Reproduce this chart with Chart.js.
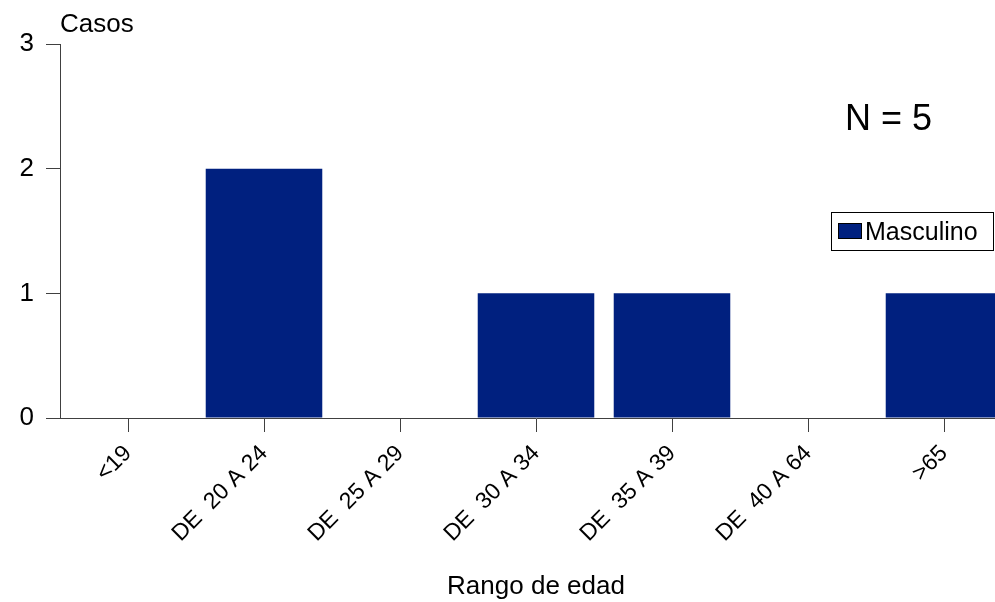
<!DOCTYPE html>
<html>
<head>
<meta charset="utf-8">
<script src="https://cdn.jsdelivr.net/npm/chart.js@4"></script>
<style>
  html, body { margin: 0; padding: 0; background: #fff; overflow: hidden; }
  #wrap { width: 995px; height: 602px; overflow: hidden; }
</style>
</head>
<body>
<div id="wrap"><canvas id="chart" width="1020" height="602"></canvas></div>
<script>
const categories = ['<19', 'DE  20 A 24', 'DE  25 A 29', 'DE  30 A 34', 'DE  35 A 39', 'DE  40 A 64', '>65'];
const masculino = [0, 2, 0, 1, 1, 0, 1];
const seriesLabel = 'Masculino';
const yTitle = 'Casos';
const xTitle = 'Rango de edad';
const totalLabel = 'N = 5';

const barColor = '#00207f';
const axisColor = '#404040';
const fontFamily = 'Arial, "Liberation Sans", sans-serif';

const extraText = {
    id: 'extraText',
    afterDraw(chart) {
        const ctx = chart.ctx;
        ctx.save();
        ctx.fillStyle = '#000';
        ctx.textBaseline = 'alphabetic';
        ctx.textAlign = 'left';

        ctx.font = '26px ' + fontFamily;
        ctx.fillText(yTitle, 60, 32);

        ctx.font = '36px ' + fontFamily;
        ctx.fillText(totalLabel, 845, 130);

        // legend box
        ctx.strokeStyle = '#000';
        ctx.lineWidth = 1;
        ctx.strokeRect(831.5, 212.5, 162, 38);
        ctx.fillStyle = barColor;
        ctx.fillRect(838, 223, 24, 16);
        ctx.strokeRect(838.5, 223.5, 23, 15);
        ctx.fillStyle = '#000';
        ctx.font = '25px ' + fontFamily;
        ctx.fillText(seriesLabel, 865, 240);
        ctx.restore();
    }
};

new Chart(document.getElementById('chart'), {
    type: 'bar',
    data: {
        labels: categories,
        datasets: [{
            label: seriesLabel,
            data: masculino,
            backgroundColor: barColor,
            categoryPercentage: 1,
            barPercentage: 0.857
        }]
    },
    options: {
        responsive: false,
        animation: false,
        layout: { padding: { left: 0, top: 44, right: 8, bottom: 0 } },
        plugins: {
            legend: { display: false },
            tooltip: { enabled: false }
        },
        scales: {
            x: {
                offset: true,
                afterFit: s => { s.height = 184; },
                grid: {
                    offset: false,
                    drawOnChartArea: false,
                    tickLength: 14,
                    color: axisColor
                },
                border: { color: axisColor },
                ticks: {
                    autoSkip: false,
                    minRotation: 45,
                    maxRotation: 45,
                    padding: 8,
                    color: '#000',
                    font: { family: fontFamily, size: 23 }
                },
                title: {
                    display: true,
                    text: xTitle,
                    color: '#000',
                    padding: { top: 0, bottom: 0 },
                    font: { family: fontFamily, size: 26 }
                }
            },
            y: {
                min: 0,
                max: 3,
                afterFit: s => { s.width = 60; },
                grid: {
                    drawOnChartArea: false,
                    tickLength: 14,
                    color: axisColor
                },
                border: { color: axisColor },
                ticks: {
                    stepSize: 1,
                    padding: 12,
                    color: '#000',
                    font: { family: fontFamily, size: 26 }
                }
            }
        }
    },
    plugins: [extraText]
});
</script>
</body>
</html>
